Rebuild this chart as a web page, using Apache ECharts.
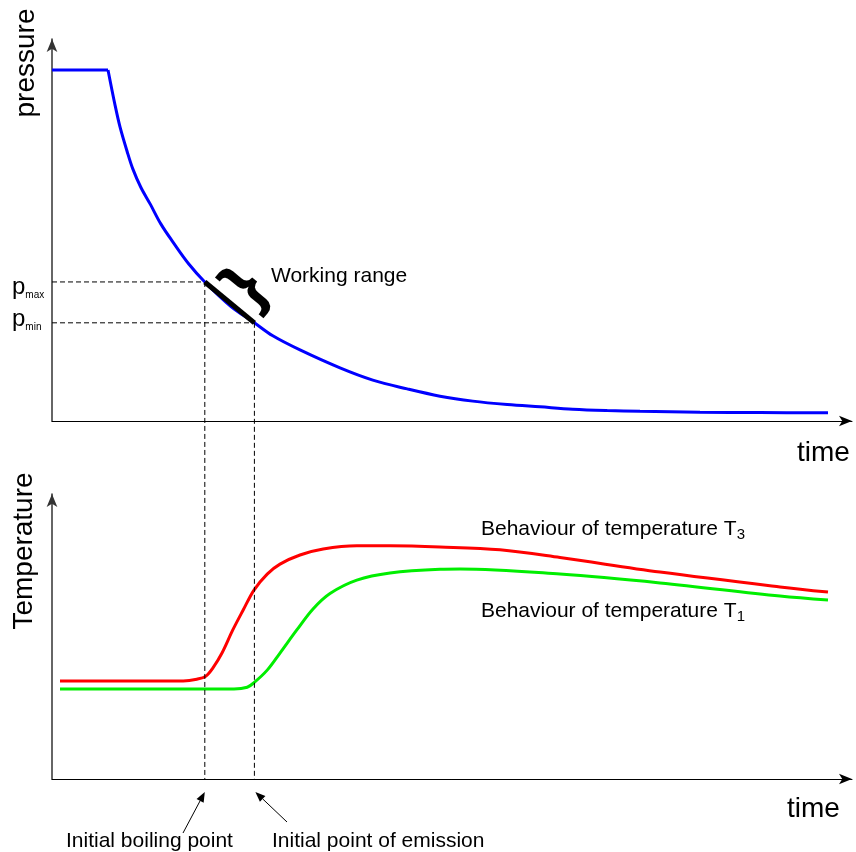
<!DOCTYPE html>
<html><head><meta charset="utf-8">
<script src="https://cdn.jsdelivr.net/npm/echarts@6/dist/echarts.min.js"></script>
<style>html,body{margin:0;padding:0;background:#fff}#c{width:856px;height:852px}</style>
</head><body><div id="c"></div>
<script>
// ---- data (abstract units: time 0..100, pressure 0..100, temperature 0..100) ----
const pressureFlatTime = [0, 7];
const pressureFlatValues = [91.9, 91.9];
const pressureTime = [7, 7.9, 8.5, 9.4, 10.1, 11.1, 12.3, 13.6, 15.1, 17.1, 19.1, 22.3, 25.3, 27.6, 31, 36, 40.1, 44.4, 48.5, 52.6, 56.9, 61, 65.1, 69.4, 73.5, 81, 88.5, 97];
const pressureValues = [91.9, 82.5, 77.0, 70.5, 66.0, 61.2, 56.7, 51.6, 46.9, 41.1, 36.4, 30.1, 25.7, 22.3, 18.6, 13.9, 10.7, 8.4, 6.5, 5.2, 4.3, 3.7, 3.1, 2.75, 2.55, 2.3, 2.2, 2.15];
const workingRangeTime = [19.1, 25.3];      // initial boiling point, initial point of emission
const workingRangePressure = [36.4, 25.7];  // p_max, p_min
const t3Time = [1, 11, 16.4, 18.1, 19.25, 20.1, 21.25, 22.6, 23.9, 25.25, 26.9, 28.5, 31, 33.9, 38.1, 42.25, 48.5, 56, 63.5, 76, 91, 97];
const t3Values = [34.4, 34.4, 34.4, 35.0, 36.1, 38.9, 44.2, 52.3, 59.3, 66.3, 71.9, 75.4, 78.6, 80.7, 81.8, 81.8, 81.4, 80.4, 77.7, 72.6, 67.4, 65.6];
const t1Time = [1, 22.75, 24.4, 25.25, 26.9, 28.5, 30.6, 32.6, 34.75, 38.1, 42.25, 48.5, 51, 63.5, 76, 91, 97];
const t1Values = [31.6, 31.6, 32.2, 33.8, 38.2, 44.2, 52.3, 59.6, 65.1, 69.8, 72.3, 73.6, 73.7, 71.9, 68.8, 64.2, 62.8];

const FONT = 'Liberation Sans, Arial, sans-serif';
const zip = (a, b) => a.map((v, i) => [v, b[i]]);

const chart = echarts.init(document.getElementById('c'), null, {renderer: 'canvas'});

function xAxis(gi) {
  return {type: 'value', gridIndex: gi, min: 0, max: 100,
    axisLine: {show: true, onZero: false, symbol: ['none', 'arrow'], symbolSize: [8, 13], lineStyle: {color: '#000', width: 1}},
    axisTick: {show: false}, axisLabel: {show: false}, splitLine: {show: false}};
}
function yAxis(gi) {
  return {type: 'value', gridIndex: gi, min: 0, max: 100,
    axisLine: {show: true, onZero: false, symbol: ['none', 'arrow'], symbolSize: [8, 13], lineStyle: {color: '#333', width: 1.5}},
    axisTick: {show: false}, axisLabel: {show: false}, splitLine: {show: false}};
}
const dash = {color: '#000', width: 1, type: [5, 3]};
const sm = {smooth: 0.35};

chart.setOption({
  animation: false,
  backgroundColor: '#fff',
  grid: [
    {left: 52, top: 39, width: 800, height: 382},
    {left: 52, top: 494, width: 800, height: 285}
  ],
  xAxis: [xAxis(0), xAxis(1)],
  yAxis: [yAxis(0), yAxis(1)],
  series: [
    {type: 'line', xAxisIndex: 0, yAxisIndex: 0, data: zip(pressureFlatTime, pressureFlatValues), showSymbol: false,
     lineStyle: {color: '#0000ff', width: 3}, z: 3},
    Object.assign({type: 'line', xAxisIndex: 0, yAxisIndex: 0, data: zip(pressureTime, pressureValues), showSymbol: false,
     lineStyle: {color: '#0000ff', width: 3}, z: 3}, sm),
    {type: 'line', xAxisIndex: 0, yAxisIndex: 0, data: [[0, workingRangePressure[0]], [workingRangeTime[0], workingRangePressure[0]]], showSymbol: false,
     lineStyle: dash, z: 2},
    {type: 'line', xAxisIndex: 0, yAxisIndex: 0, data: [[0, workingRangePressure[1]], [workingRangeTime[1], workingRangePressure[1]]], showSymbol: false,
     lineStyle: dash, z: 2},
    {type: 'line', xAxisIndex: 0, yAxisIndex: 0, data: zip(workingRangeTime, workingRangePressure), showSymbol: false,
     lineStyle: {color: '#000', width: 5, cap: 'butt'}, z: 4},
    Object.assign({type: 'line', xAxisIndex: 1, yAxisIndex: 1, data: zip(t3Time, t3Values), showSymbol: false,
     lineStyle: {color: '#ff0000', width: 3}, z: 3}, sm),
    Object.assign({type: 'line', xAxisIndex: 1, yAxisIndex: 1, data: zip(t1Time, t1Values), showSymbol: false,
     lineStyle: {color: '#00ee00', width: 3}, z: 3}, sm)
  ]
});

// ---- annotations positioned from the data through the chart's scales ----
const topA = chart.convertToPixel({gridIndex: 0}, [workingRangeTime[0], workingRangePressure[0]]);
const topB = chart.convertToPixel({gridIndex: 0}, [workingRangeTime[1], workingRangePressure[1]]);
const botY = chart.convertToPixel({gridIndex: 1}, [0, 0])[1];

function arrow(x1, y1, x2, y2) {
  const ang = Math.atan2(y2 - y1, x2 - x1), L = 10, W = 4;
  const bx = x2 - L * Math.cos(ang), by = y2 - L * Math.sin(ang);
  const px = -Math.sin(ang) * W, py = Math.cos(ang) * W;
  return [
    {type: 'line', shape: {x1: x1, y1: y1, x2: bx, y2: by}, style: {stroke: '#000', lineWidth: 1}, z: 10},
    {type: 'polygon', shape: {points: [[x2, y2], [bx + px, by + py], [bx - px, by - py]]}, style: {fill: '#000'}, z: 10}
  ];
}
function txt(x, y, text, size, opts) {
  return Object.assign({type: 'text', x: x, y: y, z: 10,
    style: {text: text, font: size + 'px ' + FONT, fill: '#000', align: 'left', verticalAlign: 'middle'}}, opts || {});
}
function sub(x, y, main, s, mainSize, subSize, lh) {
  return {type: 'text', x: x, y: y, z: 10, style: {
    text: '{m|' + main + '}{s|' + s + '}', fill: '#000', verticalAlign: 'middle',
    rich: {m: {fontSize: mainSize, fontFamily: FONT, lineHeight: lh, verticalAlign: 'middle'},
           s: {fontSize: subSize, fontFamily: FONT, verticalAlign: 'bottom', lineHeight: subSize}}}};
}

const g = [
  {type: 'line', shape: {x1: topA[0], y1: topA[1], x2: topA[0], y2: botY}, style: {stroke: '#000', lineWidth: 1, lineDash: [5, 3]}, z: 5},
  {type: 'line', shape: {x1: topB[0], y1: topB[1], x2: topB[0], y2: botY}, style: {stroke: '#000', lineWidth: 1, lineDash: [5, 3]}, z: 5},
  ...arrow(183, 833, topA[0], botY + 13),
  ...arrow(287, 822, topB[0] + 1, botY + 13),
  txt(26, 63, 'pressure', 28, {rotation: Math.PI / 2, style: {text: 'pressure', font: '28px ' + FONT, fill: '#000', align: 'center', verticalAlign: 'middle'}}),
  txt(24, 551, 'Temperature', 28, {rotation: Math.PI / 2, style: {text: 'Temperature', font: '28px ' + FONT, fill: '#000', align: 'center', verticalAlign: 'middle'}}),
  txt(797, 453, 'time', 28),
  txt(787, 809, 'time', 28),
  txt(271, 276, 'Working range', 21),
  txt(66, 841, 'Initial boiling point', 21),
  txt(272, 841, 'Initial point of emission', 21),
  sub(12, 287, 'p', 'max', 24, 10, 26),
  sub(12, 319, 'p', 'min', 24, 10, 26),
  sub(481, 529, 'Behaviour of temperature T', '3', 21, 15, 26),
  sub(481, 611, 'Behaviour of temperature T', '1', 21, 15, 26),
  {type: 'text', x: 246, y: 288, z: 10, rotation: 50 * Math.PI / 180, style: {
    text: '}', font: 'bold 68px ' + FONT, fill: '#000', align: 'center', verticalAlign: 'middle'}}
];
chart.setOption({graphic: g});
</script>
</body></html>
